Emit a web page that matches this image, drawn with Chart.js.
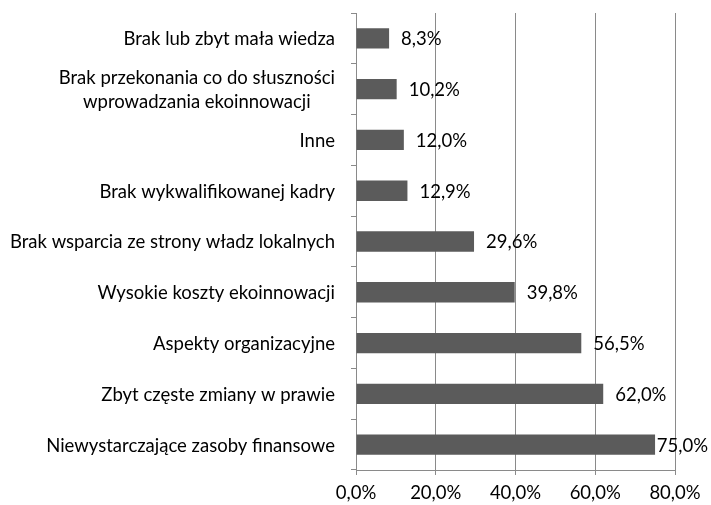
<!DOCTYPE html>
<html><head><meta charset="utf-8">
<script src="https://cdn.jsdelivr.net/npm/chart.js@4"></script>
<style>html,body{margin:0;padding:0;background:#fff}#wrap{width:711px;height:505px}</style>
</head><body><div id="wrap"><canvas id="c" width="711" height="505"></canvas></div>
<script>
const categories = [
  ["Brak lub zbyt mała wiedza"],
  ["Brak przekonania co do słuszności","wprowadzania ekoinnowacji"],
  ["Inne"],
  ["Brak wykwalifikowanej kadry"],
  ["Brak wsparcia ze strony władz lokalnych"],
  ["Wysokie koszty ekoinnowacji"],
  ["Aspekty organizacyjne"],
  ["Zbyt częste zmiany w prawie"],
  ["Niewystarczające zasoby finansowe"]
];
const values = [8.3, 10.2, 12.0, 12.9, 29.6, 39.8, 56.5, 62.0, 75.0];
const xTicks = [0, 20, 40, 60, 80];

const FONT = "Lato, 'Open Sans', sans-serif";
const FSIZE = 18.5;
const fmt = v => v.toFixed(1).replace('.', ',') + '%';

const labelPlugin = {
  id: 'labels',
  afterDatasetsDraw(chart) {
    const ctx = chart.ctx;
    ctx.save();
    ctx.font = FSIZE + "px " + FONT;
    ctx.fillStyle = '#000';
    ctx.textBaseline = 'middle';
    ctx.textAlign = 'left';
    const meta = chart.getDatasetMeta(0);
    meta.data.forEach((bar, i) => {
      const t = fmt(values[i]);
      const w = ctx.measureText(t).width;
      const x = Math.min(bar.x + 12, chart.width - 3 - w);
      ctx.fillText(t, x, bar.y + 1);
    });
    const ys = chart.scales.y;
    const right = ys.right - 21;
    const lh = 24;
    categories.forEach((lines, i) => {
      const y = ys.getPixelForValue(i);
      const w = Math.max(...lines.map(l => ctx.measureText(l).width));
      const cx = right - w / 2;
      ctx.textAlign = 'center';
      lines.forEach((l, k) => {
        ctx.fillText(l, cx, y + 1 + (k - (lines.length - 1) / 2) * lh);
      });
    });
    ctx.restore();
  }
};

new Chart(document.getElementById('c'), {
  type: 'bar',
  data: {
    labels: categories,
    datasets: [{
      data: values,
      backgroundColor: '#5b5b5b',
      borderWidth: 0,
      barPercentage: 0.4,
      categoryPercentage: 1.0
    }]
  },
  options: {
    indexAxis: 'y',
    responsive: false,
    animation: false,
    devicePixelRatio: 1,
    layout: { padding: { left: 0, right: 36, top: 13, bottom: 0 } },
    plugins: { legend: { display: false }, tooltip: { enabled: false } },
    scales: {
      x: {
        min: 0, max: 80,
        afterBuildTicks: s => { s.ticks = xTicks.map(v => ({ value: v })); },
        afterFit: s => { s.height = 35; },
        ticks: {
          callback: v => fmt(v),
          color: '#000',
          font: { family: FONT, size: FSIZE },
          padding: 7,
          maxRotation: 0
        },
        grid: { color: '#8a8a8a', lineWidth: 1, tickLength: 5, drawTicks: true },
        border: { display: true, color: '#8a8a8a' }
      },
      y: {
        afterFit: s => { s.width = 356; },
        ticks: { color: 'rgba(0,0,0,0)', font: { family: FONT, size: 12 } },
        grid: { drawOnChartArea: false, drawTicks: true, tickLength: 5, color: '#8a8a8a', offset: true },
        border: { display: true, color: '#8a8a8a' }
      }
    }
  },
  plugins: [labelPlugin]
});
</script></body></html>
